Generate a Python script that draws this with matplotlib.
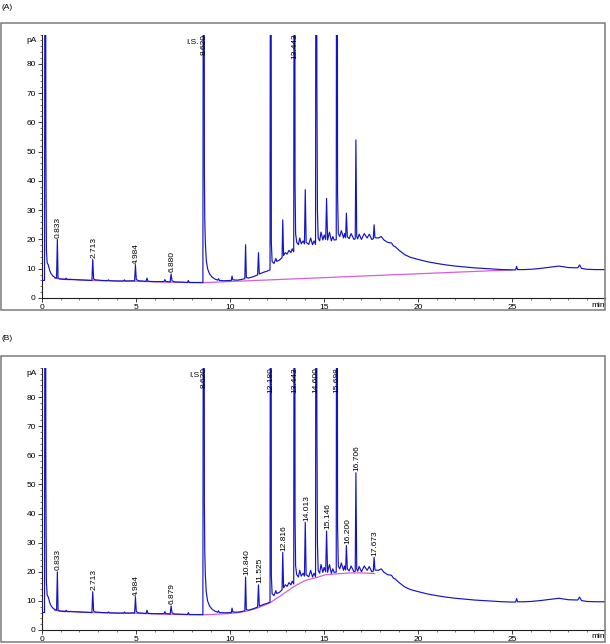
import numpy as np
import matplotlib
matplotlib.use("Agg")
import matplotlib.pyplot as plt
from matplotlib.patches import Rectangle
from matplotlib.ticker import MultipleLocator

plt.rcParams['font.family'] = ['Liberation Sans', 'DejaVu Sans']

# ---------------- data ----------------
# valley / baseline points of the FID trace (min, pA)
valley_time = [0.00, 0.15, 0.22, 0.25, 0.29, 0.35, 0.42, 0.50, 0.60, 0.70, 0.79, 0.87, 0.95,
               1.10, 1.26, 1.34, 1.60, 2.00, 2.40, 2.67, 2.76, 2.85, 3.20, 3.50, 3.60, 4.00,
               4.35, 4.45, 4.94, 5.03, 5.15, 5.55, 5.65, 6.00, 6.50, 6.60, 6.83, 6.93, 7.05,
               7.50, 7.75, 7.85, 8.20, 8.57, 8.65, 8.67, 8.70, 8.75, 8.82, 8.92, 9.05, 9.20,
               9.36, 9.45, 9.70, 10.08, 10.16, 10.40, 10.60, 10.80, 10.88, 11.00, 11.30, 11.48,
               11.57, 11.80, 12.00, 12.14, 12.21, 12.25, 12.35, 12.50, 12.65, 12.78, 12.86,
               13.05, 13.25, 13.40, 13.47, 13.50, 13.56, 13.65, 13.80, 13.97, 14.06, 14.20,
               14.40, 14.56, 14.63, 14.66, 14.70, 14.78, 14.95, 15.10, 15.20, 15.40, 15.55,
               15.66, 15.73, 15.77, 15.85, 16.05, 16.16, 16.25, 16.35, 16.60, 16.67, 16.75,
               16.80, 17.00, 17.30, 17.55, 17.63, 17.72, 17.90, 18.20, 18.40, 18.70, 18.80,
               19.00, 19.30, 19.60, 20.00, 20.50, 21.00, 21.50, 22.00, 22.50, 23.00, 23.50,
               24.00, 24.50, 25.00, 25.20, 25.30, 25.60, 26.00, 26.50, 27.00, 27.50, 28.00,
               28.50, 28.70, 29.00, 29.50, 30.00]
valley_pA = [6.0, 6.0, 53.0, 16.5, 12.0, 11.3, 9.5, 8.3, 7.5, 7.0, 6.8, 6.8, 6.5,
             6.4, 6.3, 6.3, 6.3, 6.2, 6.1, 6.0, 6.5, 6.2, 6.0, 5.9, 5.9, 5.8,
             5.8, 5.8, 5.9, 6.3, 5.9, 5.7, 5.7, 5.6, 5.6, 5.6, 5.5, 5.9, 5.5,
             5.4, 5.3, 5.3, 5.3, 5.3, 43.0, 27.0, 19.0, 13.0, 10.0, 8.3, 7.2, 6.5,
             6.1, 6.0, 5.9, 6.0, 6.2, 6.1, 6.3, 6.6, 7.0, 6.8, 7.4, 7.9,
             8.2, 8.8, 9.2, 9.6, 19.0, 12.5, 11.8, 12.5, 13.0, 13.8, 14.5,
             15.0, 15.5, 15.8, 39.0, 22.0, 19.0, 18.2, 18.5, 18.5, 19.0, 18.3,
             18.2, 18.3, 75.0, 30.0, 20.5, 19.5, 19.8, 20.0, 19.8, 19.5, 19.8,
             19.9, 36.0, 22.0, 21.0, 20.5, 20.6, 21.0, 20.3, 20.0, 20.2, 21.0,
             20.2, 20.0, 20.5, 20.0, 20.2, 20.6, 20.5, 19.8, 19.0, 17.8, 17.5,
             16.3, 14.8, 13.9, 13.2, 12.4, 11.8, 11.3, 10.9, 10.6, 10.3, 10.1,
             9.9, 9.7, 9.6, 9.6, 9.7, 9.7, 9.8, 10.1, 10.5, 10.9, 10.4,
             10.3, 10.1, 9.8, 9.7, 9.7]

# peak apexes (min, pA); off-scale peaks are given a value above the axis top
peak_time = [0.19, 0.833, 2.713, 4.984, 6.879, 8.620, 10.840, 11.525, 12.180, 12.816,
             13.443, 14.013, 14.600, 15.146, 15.698, 16.200, 16.706, 17.673]
peak_pA = [300, 20.0, 13.2, 11.2, 8.2, 300, 18.2, 15.5, 300, 26.7,
           300, 37.0, 300, 34.0, 300, 29.0, 54.0, 25.0]

# small bumps / noise on the trace (min, pA)
minor_time = [1.30, 3.55, 4.40, 5.60, 6.55, 7.80, 9.40, 10.12, 12.45, 12.95, 13.15, 13.32,
              13.72, 13.90, 14.30, 14.48, 14.85, 15.02, 15.30, 15.48, 15.93, 16.10, 16.45,
              16.88, 17.15, 17.42, 18.05, 18.60, 25.25, 28.60]
minor_pA = [6.8, 6.2, 6.2, 6.8, 6.3, 6.0, 6.6, 7.5, 13.5, 15.5, 16.3, 16.8,
            20.5, 19.5, 20.5, 19.5, 22.5, 21.5, 22.5, 21.0, 23.0, 22.0, 22.0,
            21.8, 22.0, 21.8, 21.0, 18.8, 10.8, 11.3]

# integration baselines (magenta)
intbase_A_time = [0.70, 2.60, 5.00, 6.80, 8.50, 9.90, 25.00]
intbase_A_pA = [6.7, 6.0, 5.7, 5.4, 5.2, 5.6, 9.6]
intbase_B_time = [0.70, 2.60, 5.00, 6.80, 8.50, 9.90, 10.50, 10.90, 11.50, 12.10, 12.80,
                  13.40, 14.00, 14.60, 15.10, 15.70, 16.40, 17.00, 17.70]
intbase_B_pA = [6.7, 6.0, 5.7, 5.4, 5.2, 5.6, 6.0, 6.5, 7.6, 9.2, 12.2,
                14.9, 17.0, 18.0, 19.0, 19.3, 19.6, 19.6, 19.4]

# peak labels
labels_A_time = [0.833, 2.713, 4.984, 6.879, 8.620, 13.443]
labels_A_text = ["0.833", "2.713", "4.984", "6.880", "8.620", "13.443"]
labels_B_time = [0.833, 2.713, 4.984, 6.879, 8.620, 10.840, 11.525, 12.180, 12.816, 13.443,
                 14.013, 14.600, 15.146, 15.698, 16.200, 16.706, 17.673]
labels_B_text = ["0.833", "2.713", "4.984", "6.879", "8.620", "10.840", "11.525", "12.180",
                 "12.816", "13.443", "14.013", "14.600", "15.146", "15.698", "16.200",
                 "16.706", "17.673"]
is_text_A = "I.S."
is_text_B = "I.S"

# ---------------- build trace ----------------
all_t = np.concatenate([valley_time, peak_time, minor_time])
all_y = np.concatenate([valley_pA, peak_pA, minor_pA])
order = np.argsort(all_t, kind="stable")
trace_t = all_t[order]
trace_y = all_y[order]
apex = dict(zip(peak_time, peak_pA))

YMAX = 90
TRACE = "#1414c4"
PINK = "#d65fd6"
FS = 6.0

fig = plt.figure(figsize=(6.10, 6.44), dpi=100)
W, H = 610.0, 644.0

def panel(bottom_px, top_px, box_top, box_bot, tag, tag_y, lab_t, lab_txt, is_txt, ib_t, ib_y):
    left = 41.7 / W
    right = 605.0 / W
    ax = fig.add_axes([left, 1 - bottom_px / H, right - left, (bottom_px - top_px) / H])
    ax.plot(ib_t, ib_y, color=PINK, lw=0.9, zorder=2)
    ax.plot(trace_t, trace_y, color=TRACE, lw=0.85, zorder=3)
    ax.set_xlim(0, 29.95)
    ax.set_ylim(0, YMAX)
    ax.spines['top'].set_visible(False)
    ax.spines['right'].set_visible(False)
    for s in ('left', 'bottom'):
        ax.spines[s].set_linewidth(0.8)
        ax.spines[s].set_color('#202020')
    ax.set_xticks([0, 5, 10, 15, 20, 25])
    ax.set_yticks([0, 10, 20, 30, 40, 50, 60, 70, 80])
    ax.xaxis.set_minor_locator(MultipleLocator(1))
    ax.yaxis.set_minor_locator(MultipleLocator(2))
    ax.tick_params(which='major', direction='out', length=3, width=0.6, labelsize=FS, pad=1.2,
                   color='#202020')
    ax.tick_params(which='minor', direction='out', length=1.5, width=0.5, color='#404040')
    ax.patch.set_alpha(0)
    ax.text(-0.25, 88, "pA", fontsize=FS, ha='right', va='center', clip_on=False)
    ax.text(29.95, -1.2, "min", fontsize=FS, ha='right', va='top', clip_on=False)
    for t, txt in zip(lab_t, lab_txt):
        h = apex[t]
        if h >= YMAX:
            ax.text(t, YMAX + 0.3, txt, rotation=90, fontsize=FS, ha='center', va='top',
                    zorder=4)
        else:
            ax.annotate(txt, (t, h), xytext=(0.8, 1.2), textcoords='offset points',
                        rotation=90, fontsize=FS, ha='center', va='bottom', zorder=4)
    ax.annotate(is_txt, (8.620, YMAX), xytext=(-3.5, -5.5), textcoords='offset points',
                fontsize=FS, ha='right', va='center')
    fig.add_artist(Rectangle((0.5 / W, 1 - box_bot / H), 604.5 / W, (box_bot - box_top) / H,
                             transform=fig.transFigure, fill=False, ec='#7a7a7a', lw=1.1))
    fig.text(2 / W, 1 - tag_y / H, tag, fontsize=FS, ha='left', va='center')
    return ax

panel(298.0, 34.5, 22.5, 310.0, "(A)", 7.5, labels_A_time, labels_A_text, is_text_A,
      intbase_A_time, intbase_A_pA)
panel(630.0, 368.0, 355.5, 641.5, "(B)", 339.0, labels_B_time, labels_B_text, is_text_B,
      intbase_B_time, intbase_B_pA)

fig.savefig("out.png", dpi=100)
